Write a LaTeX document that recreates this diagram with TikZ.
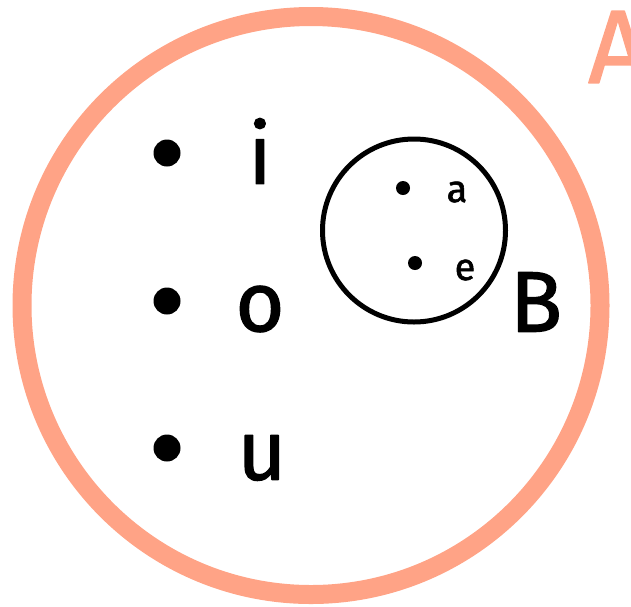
\documentclass[tikz,border=0pt]{standalone}
\usepackage{fontspec}
\setmainfont{Fira Sans}[BoldFont=Fira Sans, BoldFeatures={FakeBold=1.5}]
\definecolor{salmon}{HTML}{FFA386}
\tikzset{
  every picture/.style={line join=round, line cap=round},
  bigdot/.style={circle, fill=black, inner sep=0pt, minimum size=27pt},
  smalldot/.style={circle, fill=black, inner sep=0pt, minimum size=14pt},
  elem/.style={inner sep=0pt, font=\fontsize{84}{90}\selectfont\bfseries},
  small elem/.style={inner sep=0pt, font=\fontsize{38}{42}\selectfont\bfseries},
  setname/.style={inner sep=0pt, font=\fontsize{86}{90}\selectfont\bfseries},
}
\begin{document}
\begin{tikzpicture}[x=1pt,y=-1pt]
\useasboundingbox (0,0) rectangle (631,606);
% set A
\draw[salmon, line width=19pt] (311,305.5) circle (289pt);
\node[setname, text=salmon, font=\fontsize{104}{110}\selectfont\bfseries] (A) at (618,47) {A};
% set B
\draw[line width=5pt] (414,230.5) circle (91.5pt);
\node[setname] (B) at (536,302) {B};
% elements of A only
\node[bigdot] (dot-i) at (167,153) {};
\node[bigdot] (dot-o) at (167,301) {};
\node[bigdot] (dot-u) at (167,448) {};
\node[elem] (i) at (260,151) {i};
\node[elem] (o) at (260,309) {o};
\node[elem] (u) at (262,458) {u};
% elements of B
\node[smalldot] (dot-a) at (403,188) {};
\node[smalldot] (dot-e) at (415,263) {};
\node[small elem] (a) at (457,192) {a};
\node[small elem] (e) at (465,270) {e};
\end{tikzpicture}
\end{document}
